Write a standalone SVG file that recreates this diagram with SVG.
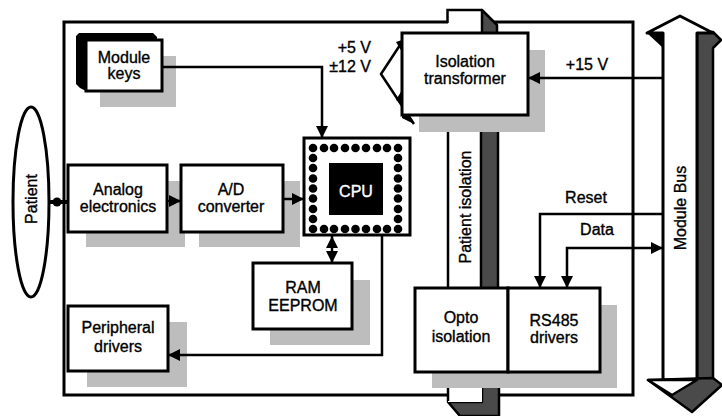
<svg xmlns="http://www.w3.org/2000/svg" width="722" height="416" viewBox="0 0 722 416">
<style>
.t{font-family:"Liberation Sans",Arial,sans-serif;font-size:16px;fill:#000;stroke:#000;stroke-width:0.35;text-anchor:middle}
.box{fill:#fff;stroke:#000;stroke-width:3}
.sh{fill:#bdbdbd}
.dk{fill:#4a4a4a;stroke:#000;stroke-width:2.5;stroke-linejoin:round}
.c{fill:none;stroke:#000;stroke-width:2.5}
.d{fill:#000}
</style>
<defs>
<marker id="ah" markerUnits="userSpaceOnUse" markerWidth="13" markerHeight="12" refX="12" refY="6" orient="auto-start-reverse"><path d="M0,0 L12,6 L0,12 z" fill="#000"/></marker>
</defs>
<rect width="722" height="416" fill="#fff"/>
<g id="board">
<rect x="64" y="22" width="569" height="373" fill="#fff" stroke="#000" stroke-width="3"/>
</g>
<g id="patient-isolation">
<rect x="448" y="10" width="34" height="14" fill="#fff"/>
<path d="M447.5,23 V10 H482" fill="none" stroke="#000" stroke-width="2.5"/>
<polygon class="dk" points="482,10 497,25 497,40 482,40"/>
<rect x="448" y="100" width="33" height="190" fill="#fff"/>
<line x1="448" y1="100" x2="448" y2="290" stroke="#000" stroke-width="2.5"/>
<rect class="dk" x="481" y="100" width="17" height="190"/>
<polygon class="dk" points="482,386 499,386 499,416 460,416 448,402 482,402"/>
<rect x="448" y="386" width="34" height="16" fill="#fff"/>
<line x1="448" y1="386" x2="448" y2="401" stroke="#000" stroke-width="2.5"/>
<text class="t" transform="translate(471,207) rotate(-90)">Patient isolation</text>
</g>
<g id="module-bus">
<polygon points="697,32 713,32 721,40 713,48 713,379 697,379" class="dk"/>
<polygon points="647,33 680,16 713,33 697,33 697,380 663,380 663,33" fill="#fff" stroke="#000" stroke-width="3" stroke-linejoin="round"/>
<polygon points="647,33 663,33 663,48" fill="#000"/>
<polygon points="648,380 713,378 722,385 692,412" class="dk"/>
<polygon points="648,380 697,380 672,395" fill="#fff" stroke="#000" stroke-width="2.5" stroke-linejoin="round"/>
<text class="t" transform="translate(686,208) rotate(-90)">Module Bus</text>
</g>
<g id="patient">
<ellipse cx="31" cy="202" rx="18" ry="95" fill="#fff" stroke="#000" stroke-width="3"/>
<text class="t" transform="translate(37,199) rotate(-90)">Patient</text>
</g>
<g id="module-keys">
<rect class="sh" x="100" y="56" width="76" height="51"/>
<polygon points="79,33 153,33 157,37 157,40 86,40 86,91 80,88 76,84 76,36" fill="#000"/>
<rect class="box" x="86" y="40" width="76" height="51"/>
<text class="t" x="124" y="63">Module</text>
<text class="t" x="124" y="79">keys</text>
</g>
<g id="analog">
<rect class="sh" x="86" y="181" width="99" height="66"/>
<rect class="box" x="68" y="165" width="99" height="67"/>
<text class="t" x="118" y="195">Analog</text>
<text class="t" x="118" y="212">electronics</text>
</g>
<g id="adc">
<rect class="sh" x="199" y="181" width="101" height="66"/>
<rect class="box" x="181" y="165" width="102" height="67"/>
<text class="t" x="231" y="195">A/D</text>
<text class="t" x="231" y="212">converter</text>
</g>
<g id="peripheral">
<rect class="sh" x="87" y="322" width="100" height="65"/>
<rect class="box" x="68" y="306" width="100" height="65"/>
<text class="t" x="118" y="333">Peripheral</text>
<text class="t" x="118" y="352">drivers</text>
</g>
<g id="ram">
<rect class="sh" x="270" y="280" width="100" height="65"/>
<rect class="box" x="253" y="263" width="99" height="66"/>
<text class="t" x="303" y="293">RAM</text>
<text class="t" x="303" y="311">EEPROM</text>
</g>
<g id="transformer">
<rect class="sh" x="419" y="50" width="126" height="82"/>
<polyline points="402,42 381,74 414,124" fill="none" stroke="#000" stroke-width="2.5" stroke-linejoin="round"/>
<polygon points="396,42 402,40 402,52" fill="#000"/>
<polygon points="396,100 402,90 402,104" fill="#000"/>
<polygon points="402,112 410,116 414,124 402,118" fill="#000"/>
<rect class="box" x="402" y="33" width="126" height="82"/>
<text class="t" x="465" y="67">Isolation</text>
<text class="t" x="465" y="84">transformer</text>
<text class="t" x="371" y="53" style="text-anchor:end">+5 V</text>
<text class="t" x="371" y="72" style="text-anchor:end">±12 V</text>
</g>
<g id="opto">
<rect class="sh" x="432" y="305" width="185" height="83"/>
<rect class="box" x="415" y="288" width="93" height="84"/>
<text class="t" x="461" y="323">Opto</text>
<text class="t" x="461" y="342">isolation</text>
</g>
<g id="rs485">
<rect class="box" x="508" y="288" width="92" height="84"/>
<text class="t" x="554" y="326">RS485</text>
<text class="t" x="554" y="343">drivers</text>
</g>
<g id="cpu">
<rect class="box" x="304" y="138" width="106" height="97"/>
<rect x="329" y="163" width="54" height="52" fill="#000"/>
<text class="t" x="356" y="197" style="fill:#fff;stroke:#fff">CPU</text>
<g class="d">
<circle cx="313" cy="148" r="4.3"/><circle cx="324" cy="148" r="4.3"/><circle cx="334" cy="148" r="4.3"/><circle cx="345" cy="148" r="4.3"/><circle cx="355.5" cy="148" r="4.3"/><circle cx="366" cy="148" r="4.3"/><circle cx="377" cy="148" r="4.3"/><circle cx="387" cy="148" r="4.3"/><circle cx="398" cy="148" r="4.3"/>
<circle cx="313" cy="229" r="4.3"/><circle cx="324" cy="229" r="4.3"/><circle cx="334" cy="229" r="4.3"/><circle cx="345" cy="229" r="4.3"/><circle cx="355.5" cy="229" r="4.3"/><circle cx="366" cy="229" r="4.3"/><circle cx="377" cy="229" r="4.3"/><circle cx="387" cy="229" r="4.3"/><circle cx="398" cy="229" r="4.3"/>
<circle cx="313" cy="158" r="4.3"/><circle cx="313" cy="168" r="4.3"/><circle cx="313" cy="178.5" r="4.3"/><circle cx="313" cy="188.5" r="4.3"/><circle cx="313" cy="198.5" r="4.3"/><circle cx="313" cy="209" r="4.3"/><circle cx="313" cy="219" r="4.3"/>
<circle cx="398" cy="158" r="4.3"/><circle cx="398" cy="168" r="4.3"/><circle cx="398" cy="178.5" r="4.3"/><circle cx="398" cy="188.5" r="4.3"/><circle cx="398" cy="198.5" r="4.3"/><circle cx="398" cy="209" r="4.3"/><circle cx="398" cy="219" r="4.3"/>
</g>
</g>
<g id="connectors">
<path class="c" d="M162,67 H322 V138" marker-end="url(#ah)"/>
<line x1="49" y1="202" x2="68" y2="202" stroke="#000" stroke-width="4"/>
<circle cx="57" cy="202" r="4.5" fill="#000"/>
<path class="c" d="M167,201 H181" marker-end="url(#ah)"/>
<path class="c" d="M283,199 H304" marker-end="url(#ah)"/>
<path class="c" d="M332,236 V263" marker-start="url(#ah)" marker-end="url(#ah)"/>
<path class="c" d="M382,235 V355 H168" marker-end="url(#ah)"/>
<path class="c" d="M663,78 H528" marker-end="url(#ah)"/>
<path class="c" d="M663,214 H540 V288" marker-end="url(#ah)"/>
<path class="c" d="M567,288 V248 H663" marker-start="url(#ah)" marker-end="url(#ah)"/>
<text class="t" x="587" y="70">+15 V</text>
<text class="t" x="586" y="203">Reset</text>
<text class="t" x="597" y="235">Data</text>
</g>
</svg>
